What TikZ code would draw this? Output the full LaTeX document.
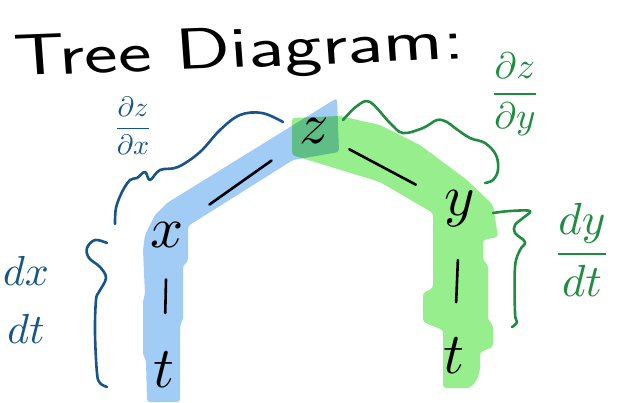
\documentclass[tikz,border=0pt]{standalone}
\usepackage{amsmath}
\usepackage{graphicx}
\usepackage{fontspec}
\definecolor{hlblue}{RGB}{160,204,245}
\definecolor{hlgreen}{RGB}{150,238,140}
\definecolor{penblue}{RGB}{22,84,140}
\definecolor{pengreen}{RGB}{32,140,64}
\newcommand{\bigsym}[2]{\scalebox{#1}{$#2$}}
\tikzset{
  pen/.style={line width=2.6pt, line cap=round, line join=round},
  letter/.style={inner sep=0pt, anchor=base},
  band/.style={rounded corners=3pt},
}
\begin{document}
\begin{tikzpicture}[x=1pt,y=-1pt]
\useasboundingbox (0,0) rectangle (621,402);
\fill[white] (0,0) rectangle (621,402);
% highlighter bands
\fill[hlblue, band] (337,98) -- (339,152) -- (293,160) -- (188,226) -- (188,262) -- (183,265)
  -- (183,320) -- (180,325) -- (180,402) -- (147,402) -- (146,360) -- (143,355)
  -- (143,300) -- (145,295) -- (143,250) -- (145,235) -- (155,215) -- (167,203) -- cycle;
\begin{scope}[blend mode=multiply]
\fill[hlgreen, band] (292,118) -- (340,116) -- (380,125) -- (420,145) -- (467,180) -- (493,205)
  -- (498,237) -- (483,240) -- (483,260) -- (488,265) -- (488,320) -- (493,325) -- (493,347)
  -- (480,352) -- (480,370) -- (477,380) -- (470,388) -- (443,388) -- (443,330) -- (423,322)
  -- (423,293) -- (433,288) -- (433,213) -- (380,182) -- (292,155) -- cycle;
\end{scope}
% title
\node[inner sep=0pt, anchor=base west, font=\sffamily\fontsize{58}{60}\selectfont, xscale=1.38, rotate=3] (title) at (15,76) {Tree Diagram:};
% letters
\node[letter] (z) at (314,143) {\bigsym{5.8}{z}};
\node[letter] (x) at (167,247) {\bigsym{5.8}{x}};
\node[letter] (y) at (460,215) {\bigsym{5.8}{y}};
\node[letter] (tl) at (164,387) {\bigsym{5.8}{t}};
\node[letter] (tr) at (454,373) {\bigsym{5.8}{t}};
% tree strokes
\draw[pen, shorten <=52pt, shorten >=52pt] (z.center) -- (x.center);
\draw[pen, shorten <=40pt, shorten >=50pt] (z.center) -- (y.center);
\draw[pen, shorten <=45pt, shorten >=56pt] (x.center) -- (tl.center);
\draw[pen, shorten <=52pt, shorten >=53pt] (y.center) -- (tr.center);
% braces
\draw[pen, penblue] plot[smooth, tension=0.6] coordinates {(283,122) (262,113) (240,115) (220,130) (200,152) (178,167) (160,170) (150,180) (145,172) (137,178) (130,180) (122,192) (116,208) (115,224)};
\draw[pen, penblue] plot[smooth, tension=0.6] coordinates {(107,243) (95,240) (87,248) (89,258) (100,267) (106,278) (99,292) (96,300) (95,333) (97,373) (100,383) (107,387)};
\draw[pen, pengreen] plot[smooth, tension=0.6] coordinates {(343,120) (357,106) (370,102) (390,123) (403,133) (423,128) (437,120) (447,122) (455,128) (470,138) (485,143) (496,155) (498,170) (493,180) (485,183)};
\draw[pen, pengreen] plot[smooth, tension=0.6] coordinates {(493,213) (510,211) (530,211) (523,218) (515,225) (515,233) (525,242) (520,250) (515,267) (515,313) (517,322) (512,327)};
% derivative labels
\node[inner sep=0pt, text=penblue] (dzdx) at (133,126) {\bigsym{2.8}{\dfrac{\partial z}{\partial x}}};
\node[inner sep=0pt, text=pengreen] (dzdy) at (515,94) {\bigsym{3.7}{\dfrac{\partial z}{\partial y}}};
\node[inner sep=0pt, text=pengreen] (dydt) at (582,250) {\bigsym{4.5}{\dfrac{dy}{dt}}};
\node[inner sep=0pt, text=penblue] (dxdt) at (26,300) {\bigsym{4.2}{\genfrac{}{}{0pt}{0}{dx}{dt}}};
\end{tikzpicture}
\end{document}
